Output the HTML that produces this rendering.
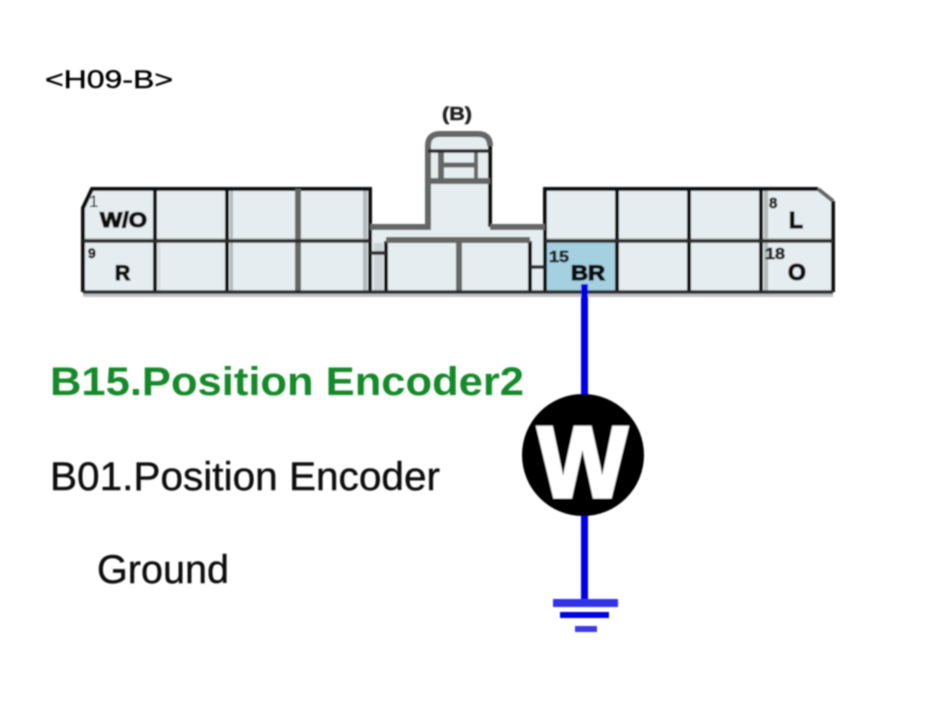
<!DOCTYPE html>
<html>
<head>
<meta charset="utf-8">
<style>
html,body{margin:0;padding:0;background:#fff;width:928px;height:708px;overflow:hidden}
svg{display:block;position:absolute;left:0;top:0}
text{font-family:"Liberation Sans",Arial,sans-serif}
</style>
</head>
<body>
<svg width="928" height="708" viewBox="0 0 928 708" xmlns="http://www.w3.org/2000/svg">
<defs><filter id="b" x="-5%" y="-5%" width="110%" height="110%"><feGaussianBlur stdDeviation="0.7"/></filter></defs>
<g filter="url(#b)">
<!-- body fill -->
<path d="M83 208 L92 189 H370 V227 H428 V146 Q428 134 440 134 H478 Q490 134 490 146 V227 H545 V189 H818 L833 201 V292 H83 Z" fill="#e6edf0"/>
<rect x="545" y="241" width="72" height="51" fill="#a5d0df"/>
<!-- bottom shadow -->
<rect x="83" y="293" width="750" height="4" fill="#bfc3c5"/>
<!-- cell side shading -->
<g fill="#b4b9bb">
<rect x="158" y="241" width="2" height="51" opacity="0.4"/>
<rect x="230" y="191" width="3" height="100"/>
<rect x="363" y="191" width="4" height="100"/>
<rect x="374" y="243" width="9" height="48" opacity="0.5"/>
<rect x="764" y="191" width="4" height="100"/>
<rect x="83" y="238" width="287" height="2" opacity="0.7"/>
<rect x="545" y="238" width="288" height="2" opacity="0.7"/>
</g>
<!-- outline -->
<g fill="none" stroke="#0c0c0c" stroke-width="4">
<path d="M83 292 V208 L92 189 H370 V227"/>
<path d="M545 227 V189 H818"/>
<path d="M833 201 V292"/>
<path d="M490 146 V227"/>
<path d="M155 189 V292 M227 189 V292"/>
<path d="M617 189 V292 M689 189 V292"/>
<path d="M370 227 V292 M386 241 V292 M530 241 V292"/>
<path d="M545 227 V292"/>
<path d="M761 189 V292"/>
</g>
<g fill="none" stroke="#666" stroke-width="6">
<path d="M298 189 V292"/>
<path d="M370 227 H428 V146 Q428 134 440 134 H478 Q490 134 490 146"/>
<path d="M490 227 H545"/>
<path d="M386 240 H530"/>
<path d="M459 241 V292"/>
<path d="M428 181 H490"/>
<path d="M441 151 V181"/>
<path d="M476 151 V181" stroke-width="4"/>
<path d="M441 165 H476" stroke-width="5"/>
<path d="M818 189 L833 201" stroke-width="4"/>
</g>
<g fill="none" stroke="#2a2a2a" stroke-width="3.5">
<path d="M83 241 H370"/>
<path d="M545 241 H833"/>
<path d="M83 292 H833"/>
<path d="M370 253 H386"/>
<path d="M530 267 H545"/>
<path d="M428 151 H490"/>
</g>
<!-- wire -->
<path d="M584.5 284 V600" stroke="#0000e6" stroke-width="7" fill="none"/>
<rect x="553" y="599" width="65" height="8" fill="#3030e8"/>
<rect x="560" y="612" width="49" height="6" fill="#0000e6"/>
<rect x="575" y="626" width="22" height="6" fill="#3a3ae6"/>
<circle cx="583" cy="455" r="61" fill="#000"/>
<text x="582.5" y="497" font-size="101" font-weight="700" fill="#fff" stroke="#fff" stroke-width="3" text-anchor="middle" textLength="90" lengthAdjust="spacingAndGlyphs">W</text>
<!-- labels -->
<text x="45" y="88" font-size="25" fill="#000" stroke="#000" stroke-width="0.4" textLength="128" lengthAdjust="spacingAndGlyphs">&lt;H09-B&gt;</text>
<text x="442" y="120" font-size="18" font-weight="700" fill="#222" stroke="#222" stroke-width="0.5" textLength="30" lengthAdjust="spacingAndGlyphs">(B)</text>
<text x="89" y="207" font-size="17" fill="#111">1</text>
<g stroke="#111" stroke-width="1.3" fill="#111">
<text x="100" y="227" font-size="21" font-weight="700" textLength="47" lengthAdjust="spacingAndGlyphs">W/O</text>
<text x="115" y="280" font-size="21" font-weight="700">R</text>
<text x="789" y="228" font-size="23" font-weight="700">L</text>
<text x="571" y="280" font-size="21" font-weight="700" textLength="34" lengthAdjust="spacingAndGlyphs">BR</text>
<text x="788" y="280" font-size="23" font-weight="700">O</text>
</g>
<g stroke="#222" stroke-width="0.7" fill="#222">
<text x="88" y="258" font-size="14" font-weight="700">9</text>
<text x="769" y="208" font-size="15" font-weight="700">8</text>
<text x="549" y="262" font-size="16" font-weight="700" textLength="20" lengthAdjust="spacingAndGlyphs">15</text>
<text x="765" y="259" font-size="16" font-weight="700" textLength="20" lengthAdjust="spacingAndGlyphs">18</text>
</g>
<text x="50" y="395" font-size="40" font-weight="700" fill="#138a2c" textLength="474" lengthAdjust="spacingAndGlyphs">B15.Position Encoder2</text>
<text x="50" y="490" font-size="40" fill="#111" stroke="#111" stroke-width="0.4" textLength="390" lengthAdjust="spacingAndGlyphs">B01.Position Encoder</text>
<text x="97" y="583" font-size="40" fill="#111" stroke="#111" stroke-width="0.4" textLength="132" lengthAdjust="spacingAndGlyphs">Ground</text>
</g>
</svg>
</body>
</html>
